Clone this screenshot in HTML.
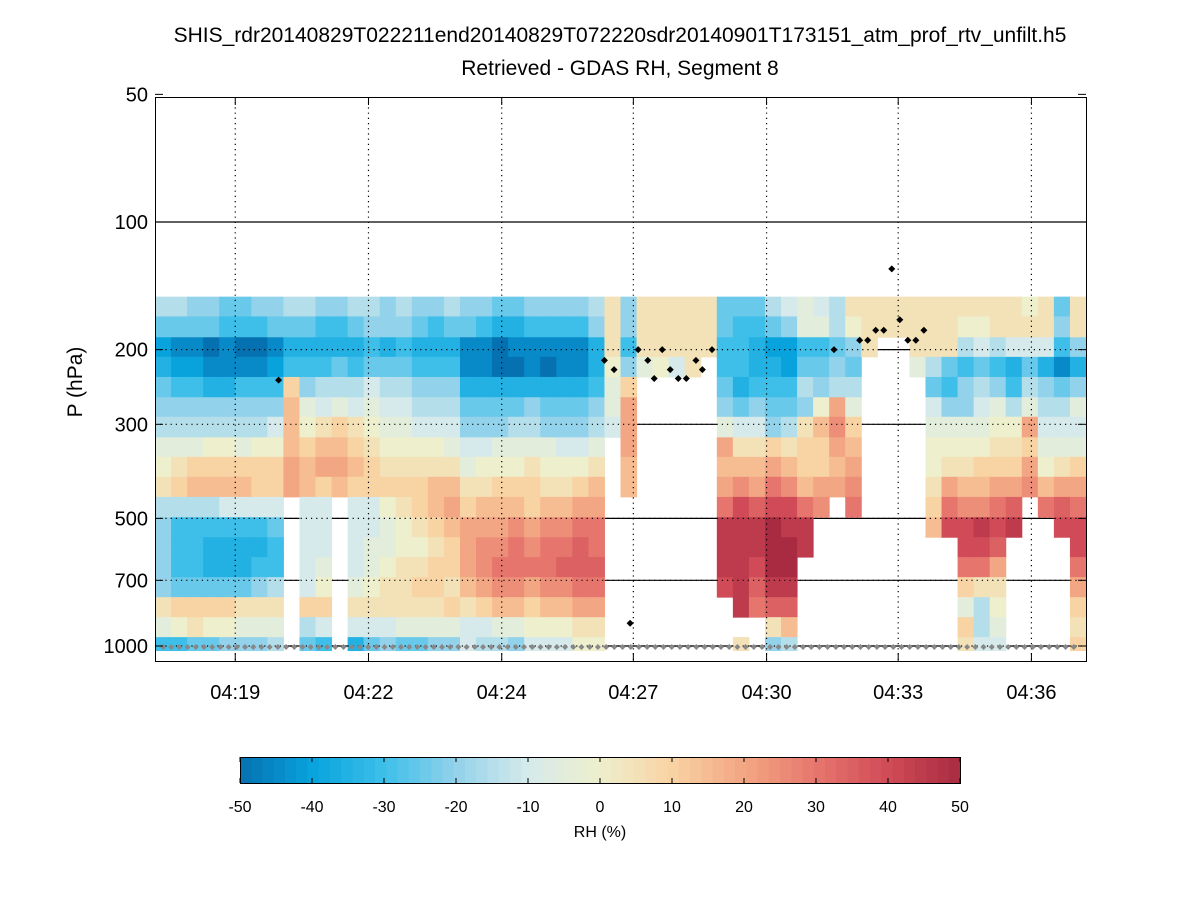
<!DOCTYPE html>
<html><head><meta charset="utf-8"><style>
body{margin:0;background:#fff;}
svg{display:block;font-family:"Liberation Sans",sans-serif;}
</style></head><body>
<svg id="chart" width="1200" height="900">
<rect width="1200" height="900" fill="#fff"/>
<text x="620" y="42" font-size="21" text-anchor="middle">SHIS_rdr20140829T022211end20140829T072220sdr20140901T173151_atm_prof_rtv_unfilt.h5</text>
<text x="620" y="75" font-size="21" text-anchor="middle">Retrieved - GDAS RH, Segment 8</text>
<text transform="translate(82,382) rotate(-90)" font-size="21" text-anchor="middle">P (hPa)</text>
<text x="600" y="837" font-size="16" text-anchor="middle">RH (%)</text>
<g id="solidgrid"></g>
<g id="cells"></g>
<g id="dotgrid"></g>
<g id="markers"></g>
<rect x="155.5" y="97.5" width="931" height="564" fill="none" stroke="#000" stroke-width="1"/>
<g id="axes"></g>
<g id="cbar"></g>
</svg>
<script>
// ---- data ----
const levelEdges=[150,167,187,208,232,259,288,322,358,399,445,497,554,617,688,767,855,953,1025];
// each column: 18 chars top(150hPa)->bottom(1000hPa); '0'=-50 ... 'a'=0 ... 'k'=50, '.'=missing
const columns=[
"75235679ab76666b94","75124679bc74445ca4","65124679cd74445cb5","6501367acd74335ca5",
"5411367acd84335ca6","54014679cd84335b96","6401467acc84346b96","6512468acc85447b97",
"7534cdddee........","753469acdd88888c75","643478bdec8889ac84","643579cded........",
"753478bcdc88889b83","764589abcc8899ab85","6635789abca99abb86","7645789abcbaabbb95",
"6534678abccbabcb95","6434678abddcbccb96","75346789bdedccbc96","651135689bceeedb88",
"64113568abdeffec87","53003569acdefgfd97","53103579acdfggfd96","64113679bccefgeca8",
"64103569abdfggfda8","64113568abdfghfda8","64113568aceghhgeba","76334679bdegghgeba",
"bbba998...........","6646ceeedd........","bbb9..............","bbba..............",
"bbb8..............","bbbb..............","bbb...............","5544569edegjjji...",
"5444358bdfijjjjj.b","5433468bdehjjihg..","7523456cegikkkjhb6","8622457bdfijkkjhd7",
"994576bccdgjj.....","89456adccef.......","77567efede........","ba6579cdefg.......",
"bbb...............","bb................","bb................","bbb9..............",
"bbb7589aabcd......","bbb5469abegi......","ba74669abdfiigc9cb","ba85789acdfjigb778",
"bb7469abcegiheba98","bb8347abcehj......","ab8579ecef........","bb836789adg.......",
"56415789behi......","bb636989cegiigecbc"];
const tropoCol=[7.7,28.0,28.6,30.1,30.7,31.1,31.6,32.1,32.6,33.1,33.7,34.1,34.7,29.6,42.3,43.9,44.4,44.9,45.4,45.9,46.4,46.9,47.4,47.9];
const tropoP=[236,212,223,200,212,234,200,223,234,234,212,223,200,884,200,190,190,180,180,129,170,190,190,180];
const sfcP=Array(112).fill(1000);
const xTickCol=[5,13.3,21.6,29.8,38.1,46.3,54.6];
const xTickLabels=["04:19","04:22","04:24","04:27","04:30","04:33","04:36"];
const yTicks=[50,100,200,300,500,700,1000];
const cbTicks=[-50,-40,-30,-20,-10,0,10,20,30,40,50];
const cmapStops=[[-50,"#0571b0"],[-40,"#08a3dd"],[-30,"#3dbfe9"],[-20,"#93d2eb"],[-10,"#d6eaeb"],[0,"#eeefcc"],[10,"#f8d3a3"],[20,"#f3a683"],[30,"#e6766d"],[40,"#d04b57"],[50,"#a92b41"]];
// ---- scales ----
const X0=155,X1=1086,NC=columns.length;
const xs=c=>X0+c*(X1-X0)/NC;
const ys=p=>222+424*Math.log10(p/100);
const NS="http://www.w3.org/2000/svg";
function hex(h){return [1,3,5].map(i=>parseInt(h.substr(i,2),16));}
function color(v){
  for(let i=0;i<cmapStops.length-1;i++){const [a,ca]=cmapStops[i],[b,cb]=cmapStops[i+1];
    if(v<=b){const t=(v-a)/(b-a),A=hex(ca),B=hex(cb);return "rgb("+A.map((q,k)=>Math.round(q+(B[k]-q)*t)).join(",")+")";}}
  return cmapStops[cmapStops.length-1][1];}
function mk(tag,attrs,parent){const e=document.createElementNS(NS,tag);for(const k in attrs)e.setAttribute(k,attrs[k]);parent.appendChild(e);return e;}
const code="0123456789abcdefghijk";
// solid grid
const sg=document.getElementById('solidgrid');
[100,200,300,500,700,1000].forEach(p=>{const l=mk('line',{x1:X0,x2:X1,y1:ys(p),y2:ys(p),stroke:'#000','stroke-width':1.2},sg);

});
// cells
const cg=document.getElementById('cells');
columns.forEach((s,c)=>{for(let r=0;r<s.length;r++){const ch=s[r];if(ch==='.')continue;
  const v=code.indexOf(ch)*5-50;const y0=ys(levelEdges[r]),y1=ys(levelEdges[r+1]);
  const rc=mk('rect',{x:xs(c),y:y0,width:xs(c+1)-xs(c)+0.5,height:y1-y0+0.5,fill:color(v)},cg);
  
  }});
// dotted grid
const dg=document.getElementById('dotgrid');
[200,300,500,700,1000].forEach(p=>{const l=mk('line',{x1:X0,x2:X1,y1:ys(p),y2:ys(p),stroke:'#000','stroke-width':1.2,'stroke-dasharray':'1.2 4'},dg);

});
xTickCol.forEach(c=>{const l=mk('line',{x1:xs(c),x2:xs(c),y1:97,y2:661,stroke:'#000','stroke-width':1.2,'stroke-dasharray':'1.2 4'},dg);

});
// markers
const mg=document.getElementById('markers');
sfcP.forEach((p,i)=>{const x=X0+8+i*(X1-X0-12)/sfcP.length,y=ys(p)+1;
  const d=mk('path',{d:`M${x-3} ${y}L${x} ${y-3}L${x+3} ${y}L${x} ${y+3}Z`,fill:'#888'},mg);
  
  });
tropoCol.forEach((c,i)=>{const x=xs(c),y=ys(tropoP[i]);
  const d=mk('path',{d:`M${x-3.5} ${y}L${x} ${y-3.5}L${x+3.5} ${y}L${x} ${y+3.5}Z`,fill:'#000'},mg);
  
  });
// axes
const ax=document.getElementById('axes');
yTicks.forEach(p=>{const y=ys(p);
  mk('line',{x1:X0,x2:X0+8,y1:y,y2:y,stroke:'#000'},ax);mk('line',{x1:X1-8,x2:X1,y1:y,y2:y,stroke:'#000'},ax);
  const t=mk('text',{x:148,y:y+7,'font-size':20,'text-anchor':'end'},ax);t.textContent=p;
  
  });
xTickCol.forEach((c,i)=>{const x=xs(c);
  mk('line',{x1:x,x2:x,y1:661,y2:653,stroke:'#000'},ax);mk('line',{x1:x,x2:x,y1:97,y2:105,stroke:'#000'},ax);
  const t=mk('text',{x:x,y:699,'font-size':20,'text-anchor':'middle'},ax);t.textContent=xTickLabels[i];
  
  });
// colorbar
const cb=document.getElementById('cbar');const CB0=240,CB1=960,CY=757,CH=26;
const cbx=v=>CB0+(v+50)/100*(CB1-CB0);
for(let k=0;k<64;k++){const v=-50+(k+0.5)*100/64;
  const r=mk('rect',{x:CB0+k*(CB1-CB0)/64,y:CY,width:(CB1-CB0)/64+0.6,height:CH,fill:color(v)},cb);
  
  }
const fr=mk('rect',{x:CB0+0.5,y:CY+0.5,width:CB1-CB0,height:CH,fill:'none',stroke:'#000'},cb);


cbTicks.forEach(v=>{const x=cbx(v);
  mk('line',{x1:x,x2:x,y1:CY,y2:CY+5,stroke:'#000'},cb);mk('line',{x1:x,x2:x,y1:CY+CH,y2:CY+CH-5,stroke:'#000'},cb);
  const t=mk('text',{x:x,y:812,'font-size':16,'text-anchor':'middle'},cb);t.textContent=v;
  
  });
</script>
</body></html>
